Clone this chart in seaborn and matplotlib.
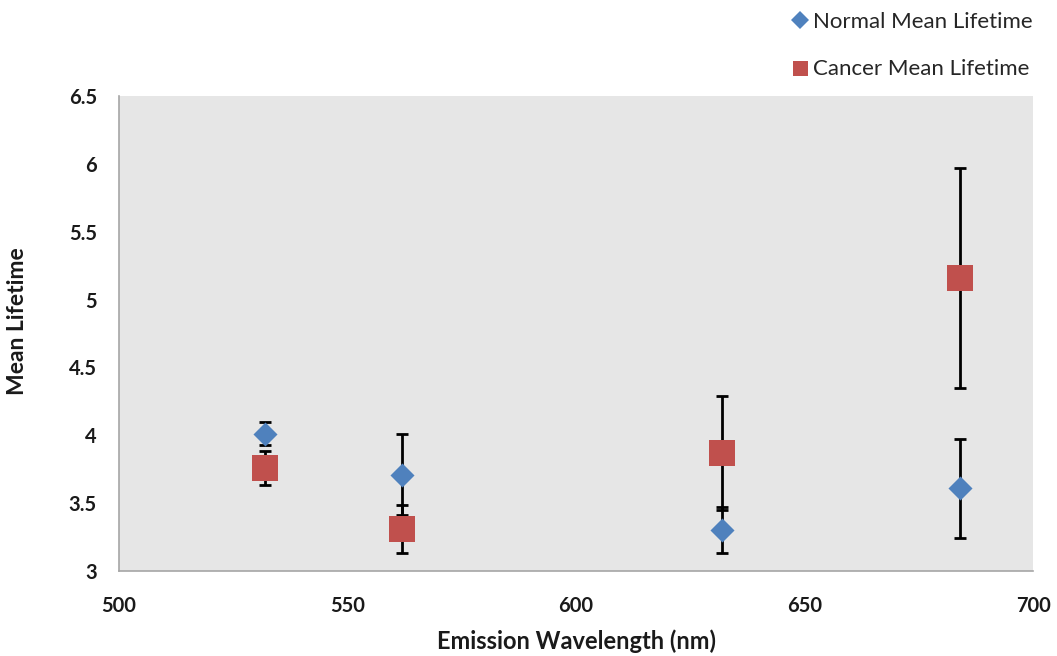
import matplotlib
matplotlib.use("Agg")
import matplotlib.pyplot as plt
from matplotlib.lines import Line2D
import seaborn as sns
import pandas as pd

# Emission wavelengths (nm) and mean lifetimes with their error bars
wavelengths = [532, 562, 632, 684]
normal_mean = [4.01, 3.71, 3.30, 3.61]
normal_err = [0.085, 0.30, 0.17, 0.365]
cancer_mean = [3.76, 3.31, 3.87, 5.16]
cancer_err = [0.125, 0.175, 0.42, 0.81]

series_names = ["Normal Mean Lifetime", "Cancer Mean Lifetime"]
series_colors = ["#4F81BD", "#C0504D"]
series_markers = ["D", "s"]
series_sizes = [150, 330]
legend_marker_sizes = [8.7, 10.8]

x_ticks = [500, 550, 600, 650, 700]
y_ticks = [3, 3.5, 4, 4.5, 5, 5.5, 6, 6.5]

df = pd.DataFrame({
    "Emission Wavelength (nm)": wavelengths * 2,
    "Mean Lifetime": normal_mean + cancer_mean,
    "err": normal_err + cancer_err,
    "Series": [series_names[0]] * len(wavelengths) + [series_names[1]] * len(wavelengths),
})

sns.set_style("white")
plt.rcParams["font.family"] = ["Lato", "DejaVu Sans"]

fig = plt.figure(figsize=(10.57, 6.56), dpi=100)
ax = fig.add_axes([0.1126, 0.1296, 0.9773 - 0.1126, 0.8537 - 0.1296])
ax.set_facecolor("#E6E6E6")

# error bars first, markers on top
for name in series_names:
    sub = df[df["Series"] == name]
    ax.errorbar(sub["Emission Wavelength (nm)"], sub["Mean Lifetime"], yerr=sub["err"],
                fmt="none", ecolor="black", elinewidth=2, capsize=4.3, capthick=2, zorder=2)

for name, color, marker, size in zip(series_names, series_colors, series_markers, series_sizes):
    sub = df[df["Series"] == name]
    sns.scatterplot(data=sub, x="Emission Wavelength (nm)", y="Mean Lifetime",
                    color=color, marker=marker, s=size, linewidth=0, ax=ax,
                    zorder=3, legend=False)

ax.set_xlim(500, 700)
ax.set_ylim(3, 6.5)
ax.set_xticks(x_ticks)
ax.set_yticks(y_ticks)
ax.set_yticklabels([f"{v:g}" for v in y_ticks])

for side in ["top", "right"]:
    ax.spines[side].set_visible(False)
for side in ["left", "bottom"]:
    ax.spines[side].set_color("#A6A6A6")
    ax.spines[side].set_linewidth(1.2)

ax.tick_params(axis="both", direction="out", length=7, width=1.2, color="#A6A6A6",
               labelsize=14.5, labelcolor="#1A1A1A")
ax.tick_params(axis="y", pad=9)
ax.tick_params(axis="x", pad=11)
for lbl in ax.get_xticklabels() + ax.get_yticklabels():
    lbl.set_fontweight("bold")

ax.set_xlabel("Emission Wavelength (nm)", fontsize=17, fontweight="bold", color="#1A1A1A", labelpad=10)
ax.set_ylabel("Mean Lifetime", fontsize=16.5, fontweight="bold", color="#1A1A1A")
ax.yaxis.set_label_coords(-0.0996, 0.526)

handles = [Line2D([], [], linestyle="none", marker=m, color=c, markersize=ms, markeredgewidth=0)
           for m, c, ms in zip(series_markers, series_colors, legend_marker_sizes)]
ax.legend(handles, series_names, loc="upper left", bbox_to_anchor=(0.727, 1.012),
          bbox_transform=fig.transFigure, frameon=False, fontsize=16,
          labelspacing=1.23, handletextpad=0.1, handlelength=1.0,
          labelcolor="#262626")

fig.savefig("out.png", dpi=100)
